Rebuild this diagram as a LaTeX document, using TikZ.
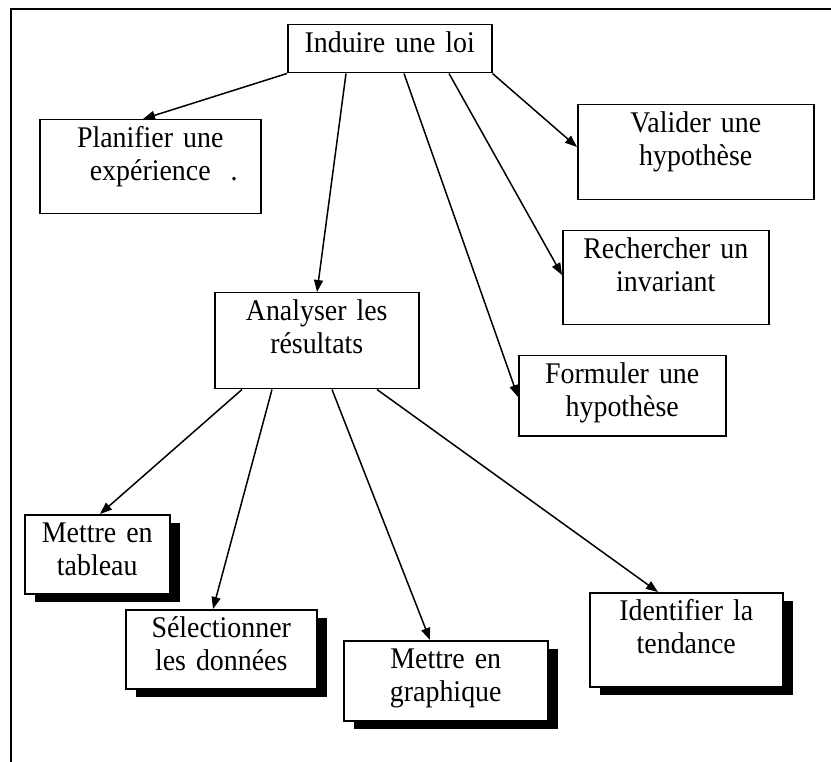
\documentclass[tikz,border=0pt]{standalone}
\usepackage{fontspec}
\setmainfont{Liberation Serif}[FakeStretch=0.93, WordSpace=0.8]
\usetikzlibrary{arrows.meta,shadows}

\begin{document}
\begin{tikzpicture}[x=1pt, y=-1pt,
  box/.style={draw, fill=white, line width=1.5pt, inner sep=0pt, anchor=north west,
    align=center, text height=28pt, font=\fontsize{30}{33}\selectfont},
  ombre/.style={box, drop shadow={shadow xshift=10pt, shadow yshift=-8pt, fill=black, opacity=1}},
  fleche/.style={line width=1.5pt, -{Triangle[length=12pt,width=9pt]}}]
\useasboundingbox (0,0) rectangle (831,762);
\draw[line width=1.5pt] (11,762) -- (11,9) -- (831,9);

\node[box, text width=204pt, text depth=20pt] (loi) at (287,24) {Induire une loi};
\node[box, text width=221pt, text depth=66pt] (plan) at (39,119) {Planifier une\\exp\'erience\rlap{\ \ .}};
\node[box, text width=236pt, text depth=67pt] (valid) at (577,104) {Valider une\\hypoth\`ese};
\node[box, text width=206pt, text depth=66pt] (rech) at (562,230) {Rechercher un\\invariant};
\node[box, text width=204pt, text depth=68pt] (ana) at (214,292) {Analyser les\\r\'esultats};
\node[box, text width=207pt, text depth=52pt] (form) at (518,355) {Formuler une\\hypoth\`ese};

% les quatre boites du bas ont une ombre
\node[ombre, text width=145pt, text depth=51pt] (tab) at (24,514) {Mettre en\\tableau};
\node[ombre, text width=191pt, text depth=51pt] (sel) at (125,609) {S\'electionner\\les donn\'ees};
\node[ombre, text width=204pt, text depth=52pt] (graph) at (343,640) {Mettre en\\graphique};
\node[ombre, text width=193pt, text depth=66pt] (tend) at (589,592) {Identifier la\\tendance};

\draw[fleche] (loi.south west) -- ([xshift=104pt]plan.north west);
\draw[fleche] ([xshift=59pt]loi.south west) -- ([xshift=103pt]ana.north west);
\draw[fleche] ([xshift=117pt]loi.south west) -- ([yshift=-42pt]form.north west);
\draw[fleche] ([xshift=162pt]loi.south west) -- ([yshift=-45pt]rech.north west);
\draw[fleche] (loi.south east) -- ([yshift=-43pt]valid.north west);

\draw[fleche] ([xshift=28pt]ana.south west) -- ([xshift=76pt]tab.north west);
\draw[fleche] ([xshift=58pt]ana.south west) -- ([xshift=88pt]sel.north west);
\draw[fleche] ([xshift=118pt]ana.south west) -- ([xshift=87pt]graph.north west);
\draw[fleche] ([xshift=163pt]ana.south west) -- ([xshift=69pt]tend.north west);
\end{tikzpicture}
\end{document}
